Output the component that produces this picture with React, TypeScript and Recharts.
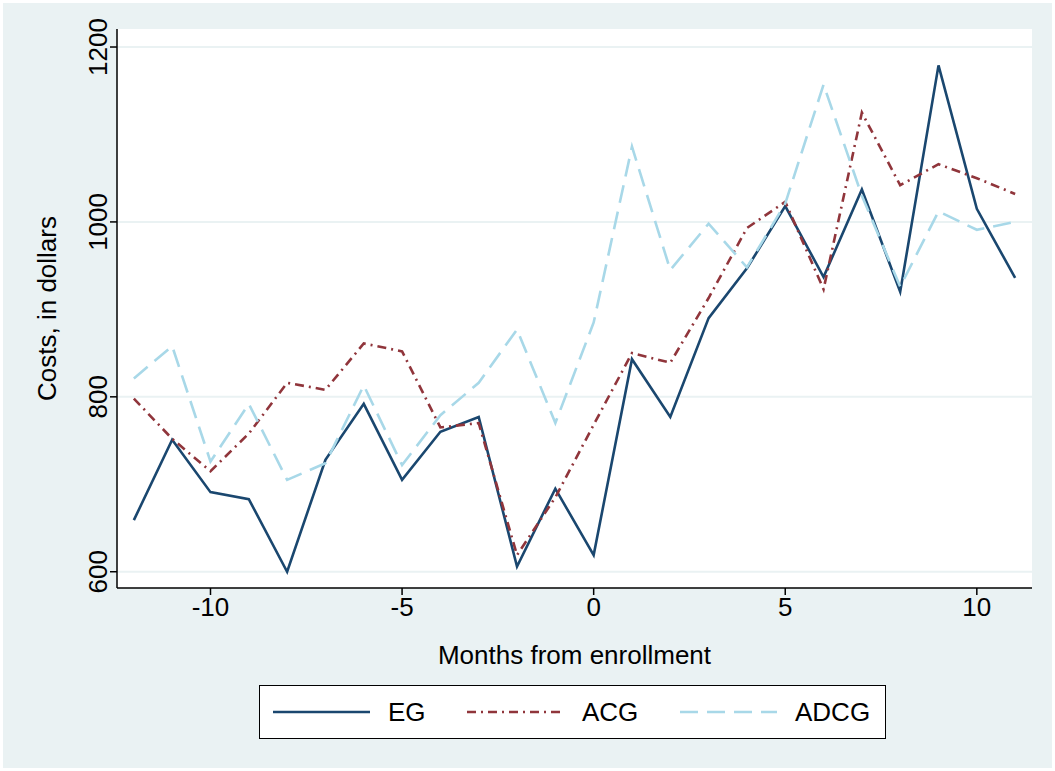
import { CartesianGrid, Legend, Line, LineChart, XAxis, YAxis } from 'recharts'

const months = [-12, -11, -10, -9, -8, -7, -6, -5, -4, -3, -2, -1, 0, 1, 2, 3, 4, 5, 6, 7, 8, 9, 10, 11]
const eg = [659, 751, 691, 683, 600, 728, 792, 705, 760, 777, 606, 695, 619, 843, 777, 890, 947, 1018, 937, 1037, 920, 1179, 1015, 936]
const acg = [798, 752, 715, 758, 816, 808, 861, 852, 765, 770, 619, 685, 768, 850, 839, 913, 993, 1023, 923, 1125, 1042, 1066, 1050, 1032]
const adcg = [821, 858, 726, 792, 705, 724, 813, 722, 779, 816, 877, 770, 885, 1086, 945, 998, 948, 1021, 1157, 1030, 926, 1012, 991, 1000]
const xTicks = [-10, -5, 0, 5, 10]
const yTicks = [600, 800, 1000, 1200]

const data = months.map((m, i) => ({ month: m, EG: eg[i], ACG: acg[i], ADCG: adcg[i] }))

const FONT = '"Liberation Sans", Arial, sans-serif'
const NAVY = '#1a476f'
const MAROON = '#90353b'
const LTBLUE = '#a8d8e8'
const BG = '#eaf2f3'

const series = [
  { key: 'EG', color: NAVY, dash: undefined as string | undefined, width: 2.6 },
  { key: 'ACG', color: MAROON, dash: '9 5 2 5', width: 2.6 },
  { key: 'ADCG', color: LTBLUE, dash: '18 9', width: 2.6 },
]

const XTick = ({ x, y, payload }: any) => (
  <text x={x} y={y} dy="0.71em" textAnchor="middle" fontSize={26} fontFamily={FONT} fill="#000">
    {payload.value}
  </text>
)

const YTick = ({ x, y, payload }: any) => (
  <text
    x={x}
    y={y}
    transform={`rotate(-90 ${x} ${y})`}
    textAnchor="middle"
    fontSize={26}
    fontFamily={FONT}
    fill="#000"
  >
    {payload.value}
  </text>
)

function StataLegend() {
  const cols = [14, 208, 421]
  return (
    <svg width={627} height={54} style={{ display: 'block' }}>
      <rect x={0.5} y={0.5} width={626} height={53} fill="#fff" stroke="#000" strokeWidth={1} />
      {series.map((s, i) => (
        <g key={s.key}>
          <line
            x1={cols[i]}
            x2={cols[i] + 97}
            y1={27}
            y2={27}
            stroke={s.color}
            strokeWidth={s.width}
            strokeDasharray={s.dash}
          />
          <text x={cols[i] + 115} y={36} fontSize={26} fontFamily={FONT} fill="#000">
            {s.key}
          </text>
        </g>
      ))}
    </svg>
  )
}

export default function App() {
  return (
    <div style={{ position: 'absolute', left: 0, top: 0, width: 1055, height: 771, background: '#fff' }}>
      <div style={{ position: 'absolute', left: 3, top: 3, width: 1049, height: 765, background: BG }} />
      <div style={{ position: 'absolute', left: 0, top: 0 }}>
        <LineChart width={1055} height={771} data={data} margin={{ top: 29, right: 23, bottom: 0, left: 0 }}>
          <CartesianGrid fill="#fff" stroke={BG} strokeWidth={2} vertical={false} horizontalValues={yTicks} />
          <XAxis
            dataKey="month"
            type="number"
            domain={[-12.44, 11.44]}
            ticks={xTicks}
            allowDataOverflow
            height={183}
            tickSize={7}
            tickMargin={3}
            stroke="#000"
            strokeWidth={1.5}
            tick={<XTick />}
            label={{
              content: ({ viewBox }: any) => (
                <text
                  x={viewBox.x + viewBox.width / 2}
                  y={viewBox.y + 76}
                  textAnchor="middle"
                  fontSize={26}
                  fontFamily={FONT}
                  fill="#000"
                >
                  Months from enrollment
                </text>
              ),
            }}
          />
          <YAxis
            type="number"
            domain={[581.4, 1220.6]}
            ticks={yTicks}
            allowDataOverflow
            width={117}
            tickSize={7}
            tickMargin={3}
            stroke="#000"
            strokeWidth={1.5}
            tick={<YTick />}
            label={{
              content: ({ viewBox }: any) => {
                const cx = 56
                const cy = viewBox.y + viewBox.height / 2
                return (
                  <text
                    x={cx}
                    y={cy}
                    transform={`rotate(-90 ${cx} ${cy})`}
                    textAnchor="middle"
                    fontSize={26}
                    fontFamily={FONT}
                    fill="#000"
                  >
                    Costs, in dollars
                  </text>
                )
              },
            }}
          />
          {series.map((s) => (
            <Line
              key={s.key}
              type="linear"
              dataKey={s.key}
              stroke={s.color}
              strokeWidth={s.width}
              strokeDasharray={s.dash}
              dot={false}
              activeDot={false}
              isAnimationActive={false}
            />
          ))}
          <Legend
            layout="horizontal"
            verticalAlign="middle"
            align="center"
            content={() => <StataLegend />}
            wrapperStyle={{ position: 'absolute', left: 259, top: 685, width: 627, height: 54 }}
          />
        </LineChart>
      </div>
    </div>
  )
}
